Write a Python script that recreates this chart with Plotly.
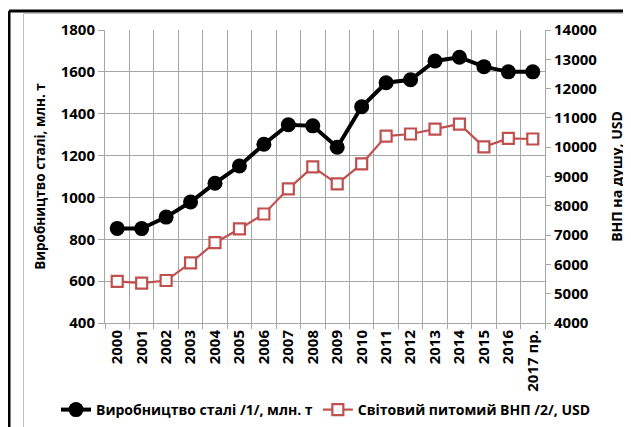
import plotly.graph_objects as go

years = ["2000", "2001", "2002", "2003", "2004", "2005", "2006", "2007", "2008",
         "2009", "2010", "2011", "2012", "2013", "2014", "2015", "2016", "2017 пр."]
steel = [852, 851, 906, 978, 1068, 1150, 1254, 1347, 1342,
         1240, 1433, 1548, 1562, 1652, 1670, 1625, 1600, 1600]
gnp = [5420, 5360, 5450, 6050, 6740, 7210, 7720, 8580, 9330,
       8750, 9430, 10380, 10450, 10620, 10790, 10010, 10300, 10280]

steel_name = "Виробництво сталі /1/, млн. т"
gnp_name = "Світовий питомий ВНП /2/, USD"
left_title = "Виробництво сталі, млн. т"
right_title = "ВНП на душу, USD"

# the page body has an 8px margin, so the figure starts at (8, 8) of the window
OFF = 8
W, H = 631 - OFF, 427 - OFF
# plot-area box, in window pixels
WL, WR, WT, WB = 105, 545, 30, 323
L, R, T, B = WL - OFF, WR - OFF, WT - OFF, WB - OFF


def px(x):  # window px -> paper fraction
    return (x - OFF - L) / (R - L)


def py(y):
    return (B - (y - OFF)) / (B - T)


FONT = dict(family="Open Sans", size=14, color="black", weight="bold")
TITLEFONT = dict(family="Open Sans", size=13.5, color="black", weight="bold")
TICKFONT = dict(family="Open Sans", size=15, color="black", weight="bold")
GRID = "#A6A6A6"

fig = go.Figure()
fig.add_trace(go.Scatter(
    x=years, y=steel, name=steel_name, mode="lines+markers",
    line=dict(color="black", width=4),
    marker=dict(symbol="circle", size=15, color="black"),
    yaxis="y", cliponaxis=False,
))
fig.add_trace(go.Scatter(
    x=years, y=gnp, name=gnp_name, mode="lines+markers",
    line=dict(color="#C0504D", width=2.2),
    marker=dict(symbol="square", size=11, color="white",
                line=dict(color="#C0504D", width=2.2)),
    yaxis="y2", cliponaxis=False,
))

fig.update_layout(
    width=W, height=H,
    margin=dict(l=L, r=W - R, t=T, b=H - B, pad=0, autoexpand=False),
    paper_bgcolor="white", plot_bgcolor="white",
    font=FONT,
    showlegend=True,
    legend=dict(orientation="h", x=px(56), xanchor="left",
                y=py(410), yanchor="middle", font=FONT,
                bgcolor="rgba(0,0,0,0)", itemwidth=30, tracegroupgap=0),
    xaxis=dict(
        type="category", tickson="boundaries", showgrid=True,
        gridcolor=GRID, gridwidth=1, showline=True, linecolor=GRID,
        ticks="outside", ticklen=5, tickcolor=GRID, tickangle=-90,
        tickfont=TICKFONT, range=[-0.5, 17.5], zeroline=False,
    ),
    yaxis=dict(
        range=[400, 1800], dtick=200, tick0=400, showgrid=True,
        gridcolor=GRID, gridwidth=1, showline=True, linecolor=GRID,
        ticks="outside", ticklen=6, tickcolor=GRID, tickfont=TICKFONT,
        zeroline=False, tickformat="d",
        title=dict(text=left_title, font=TITLEFONT, standoff=11),
    ),
    yaxis2=dict(
        range=[4000, 14000], dtick=1000, tick0=4000, overlaying="y",
        side="right", showgrid=False, showline=True, linecolor=GRID,
        ticks="outside", ticklen=5, tickcolor=GRID, tickfont=TICKFONT,
        zeroline=False, tickformat="d",
        title=dict(text=right_title, font=FONT, standoff=15),
    ),
    shapes=[
        # thin grey chart-area border
        dict(type="rect", xref="paper", yref="paper",
             x0=px(23.5), x1=px(640), y0=py(13.5), y1=py(440),
             line=dict(color="#BFBFBF", width=1), layer="below"),
        # thick black frame (top + left)
        dict(type="line", xref="paper", yref="paper",
             x0=px(9), x1=px(640), y0=py(11), y1=py(11),
             line=dict(color="black", width=3)),
        dict(type="line", xref="paper", yref="paper",
             x0=px(9), x1=px(9), y0=py(11), y1=py(440),
             line=dict(color="black", width=3)),
    ],
)

fig.write_html("out.html")
